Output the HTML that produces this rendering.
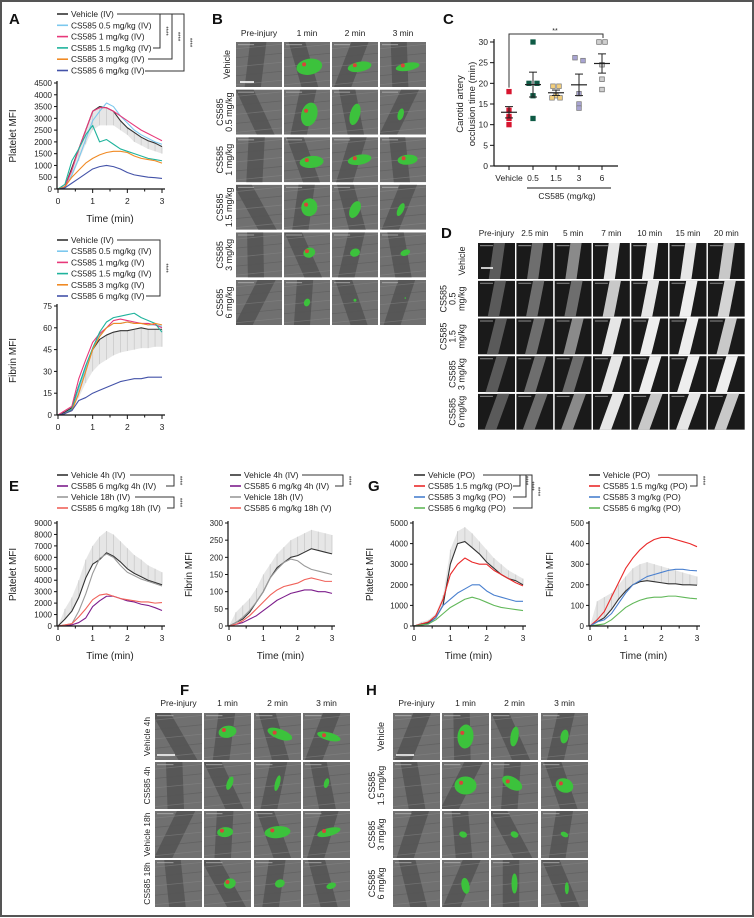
<!DOCTYPE html>
<html><head><meta charset="utf-8">
<style>
html,body{margin:0;padding:0;background:#fff;}
svg{display:block;font-family:"Liberation Sans",sans-serif;}
</style></head>
<body>
<svg id="fig" width="754" height="918" viewBox="0 0 754 918" xmlns="http://www.w3.org/2000/svg">
<rect x="1" y="1" width="752" height="915" fill="#fff" stroke="#555" stroke-width="2"/>
<g id="root"></g>
</svg>
<script>
// ---------- DATA ----------
const tA = [0,0.2,0.4,0.6,0.8,1.0,1.2,1.4,1.6,1.8,2.0,2.2,2.4,2.6,2.8,3.0];
// Panel A platelet
const aPltVehicle = [0,100,900,1700,2500,3300,3500,3450,3300,2900,2600,2400,2200,2050,1950,1800];
const aPltVehLower = [0,50,500,1200,1900,2500,2700,2700,2700,2500,2300,2000,1850,1700,1600,1500];
const aPlt05 = [0,50,600,1300,2100,2900,3300,3650,3500,3100,2800,2500,2300,2150,2000,1900];
const aPlt1 = [0,100,800,1700,2500,3300,3450,3450,3300,3100,2900,2700,2500,2350,2200,2050];
const aPlt15 = [0,200,1200,1700,2300,2700,2000,2100,1900,1700,1600,1500,1400,1300,1250,1200];
const aPlt3 = [0,100,500,800,1100,1300,1450,1550,1600,1600,1550,1400,1300,1250,1200,1100];
const aPlt6 = [0,50,250,450,650,850,950,1000,950,850,700,600,550,500,480,450];
const aPltTicks = [0,500,1000,1500,2000,2500,3000,3500,4000,4500];
// Panel A fibrin
const aFibVehicle = [0,2,5,20,33,45,52,55,57,58,58,59,60,59,59,59];
const aFibVehLower = [0,1,3,12,22,30,35,38,41,43,44,45,46,46,47,47];
const aFib05 = [0,1,4,18,32,46,55,60,63,63,64,63,63,62,62,61];
const aFib1 = [0,3,6,25,38,50,56,60,65,66,65,64,63,63,62,60];
const aFib15 = [0,1,4,20,34,46,57,64,67,68,69,70,67,65,63,57];
const aFib3 = [0,1,3,15,30,45,54,60,63,63,64,63,63,62,63,62];
const aFib6 = [0,1,3,10,12,15,17,19,21,23,24,25,25,26,26,26];
const aFibTicks = [0,15,30,45,60,75];
// Panel E platelet
const ePltVeh4 = [0,600,1300,2500,4200,5400,5800,6400,6100,5600,5000,4600,4300,4000,3800,3600];
const ePltCs4 = [0,50,100,300,700,1700,2200,2600,2600,2400,2200,2100,1900,1800,1600,1350];
const ePltVeh18 = [0,100,200,1300,2800,4600,5900,6300,6000,5300,4700,4400,4100,3900,3700,3500];
const ePltCs18 = [0,100,200,800,1500,2300,2700,2800,2600,2400,2300,2200,2100,2100,2000,2050];
const ePltUpper = [0,1500,2500,4000,5800,7000,7800,8300,8000,7400,6800,6200,5800,5300,5000,4700];
const ePltTicks = [0,1000,2000,3000,4000,5000,6000,7000,8000,9000];
// Panel E fibrin
const eFibVeh4 = [0,10,20,40,70,100,140,170,185,200,205,215,225,220,215,210];
const eFibCs4 = [0,5,10,20,30,45,60,75,85,95,100,105,105,100,100,95];
const eFibVeh18 = [0,10,25,45,70,100,140,165,185,195,190,175,165,160,155,150];
const eFibCs18 = [0,5,15,30,50,70,90,105,115,120,125,135,140,135,130,130];
const eFibUpper = [0,40,60,80,110,150,180,210,230,250,260,270,280,275,270,265];
const eFibTicks = [0,50,100,150,200,250,300];
// Panel G platelet
const gPltVeh = [0,100,150,400,1000,3000,4000,4100,3800,3500,3100,2800,2500,2300,2200,2000];
const gPlt15 = [0,100,200,500,1300,2500,3000,3300,3100,3000,3000,2700,2500,2300,2100,1950];
const gPlt3 = [0,50,100,400,1000,1300,1600,1800,2000,2000,1700,1500,1400,1300,1200,1200];
const gPlt6 = [0,50,100,300,600,900,1100,1300,1400,1300,1150,1000,900,850,800,750];
const gPltUpper = [0,200,300,600,1500,3700,4600,4800,4500,4100,3700,3300,3000,2700,2500,2300];
const gPltTicks = [0,1000,2000,3000,4000,5000];
// Panel G fibrin
const gFibVeh = [0,20,40,80,130,170,200,215,220,215,210,205,205,200,200,198];
const gFib15 = [0,30,70,140,210,280,330,370,400,420,430,430,420,410,400,385];
const gFib3 = [0,20,30,60,110,160,200,220,240,250,260,270,275,275,270,268];
const gFib6 = [0,5,10,30,60,90,110,125,135,140,140,145,145,140,135,132];
const gFibUpper = [0,120,140,160,200,240,280,300,310,300,290,280,270,260,250,240];
const gFibTicks = [0,100,200,300,400,500];
// Panel C
const cCategories = ["Vehicle","0.5","1.5","3","6"];
const cVehicle = [18,13.5,12,11.5,10];
const cDose05 = [30,20,20,17,11.5];
const cDose15 = [19.3,19.3,17,16.5,16.5];
const cDose3 = [26.2,25.5,17.5,15,14];
const cDose6 = [30,30,24.5,21,18.5];
const cTicks = [0,5,10,15,20,25,30];
const xTicks = [0,1,2,3];

// ---------- HELPERS ----------
const NS = "http://www.w3.org/2000/svg";
const root = document.getElementById('root');
function mk(tag, attrs, parent){
  const e = document.createElementNS(NS, tag);
  for (const k in attrs) e.setAttribute(k, attrs[k]);
  (parent||root).appendChild(e);
  return e;
}
function txt(x,y,s,size,anchor,parent,extra){
  const t = mk('text', Object.assign({x:x,y:y,'font-size':size,'text-anchor':anchor||'start',fill:'#222'}, extra||{}), parent);
  t.textContent = s;
  return t;
}

function lineChart(c){
  const g = mk('g',{});
  
  
  const xs = v => c.x0 + (v/3)*(c.x1-c.x0);
  const ys = v => c.yb - (v/c.ymax)*(c.yb-c.yt);
  if (c.band){
    let pts = [];
    for (let i=0;i<tA.length;i++) pts.push(xs(tA[i])+','+ys(c.bandBase[i]));
    for (let i=tA.length-1;i>=0;i--) pts.push(xs(tA[i])+','+ys(c.band[i]));
    const b = mk('polygon',{points:pts.join(' '),fill:'#e2e2e2',opacity:0.85},g);
    
    
    for (let i=0;i<tA.length;i++){
      const l = mk('line',{x1:xs(tA[i]),x2:xs(tA[i]),y1:ys(c.bandBase[i]),y2:ys(c.band[i]),stroke:'#cacaca','stroke-width':0.8},g);
      
      
    }
  }
  c.series.forEach(s=>{
    const pts = s.data.map((v,i)=>xs(tA[i])+','+ys(v)).join(' ');
    const p = mk('polyline',{points:pts,fill:'none',stroke:s.color,'stroke-width':1.1,'stroke-linejoin':'round'},g);
    
    
  });
  const ya = mk('line',{x1:c.x0-1,x2:c.x0-1,y1:c.yt-2,y2:c.yb,stroke:'#111','stroke-width':1.2},g);
  
  
  const xa = mk('line',{x1:c.x0-1,x2:c.x1+3,y1:c.yb,y2:c.yb,stroke:'#111','stroke-width':1.2},g);
  
  
  c.ticks.forEach(v=>{
    mk('line',{x1:c.x0-4,x2:c.x0-1,y1:ys(v),y2:ys(v),stroke:'#111','stroke-width':1},g);
    const t = txt(c.x0-6, ys(v)+3, String(v), 8, 'end', g);
    
    
  });
  [0,0.5,1,1.5,2,2.5,3].forEach(v=>{
    mk('line',{x1:xs(v),x2:xs(v),y1:c.yb,y2:c.yb+(v%1===0?4:2.5),stroke:'#111','stroke-width':1},g);
  });
  xTicks.forEach(v=>{
    const t = txt(xs(v), c.yb+15, String(v), 8.5, 'middle', g);
    
    
  });
  if (c.xTitle){
    const t = txt((c.x0+c.x1)/2, c.yb+33, 'Time (min)', 10, 'middle', g);
    
    
  }
  const yt = txt(0,0,c.yTitle,10,'middle',g,{transform:`translate(${c.ytx},${(c.yt+c.yb)/2}) rotate(-90)`});
  
  
}

function legend(x, y0, step, items){
  const g = mk('g',{});
  
  
  items.forEach((it,i)=>{
    const y = y0 + i*step;
    mk('line',{x1:x,x2:x+11,y1:y,y2:y,stroke:it.color,'stroke-width':1.6},g);
    const t = txt(x+14, y+3, it.label, 8.4, 'start', g);
    
    
  });
}
function bracket(xa, ya, xb, yb, xv, starX){
  const g = mk('g',{});
  
  
  mk('polyline',{points:`${xa},${ya} ${xv},${ya} ${xv},${yb} ${xb},${yb}`,fill:'none',stroke:'#333','stroke-width':1},g);
  const t = txt(0,0,'****',6,'middle',g,{transform:`translate(${starX},${(ya+yb)/2}) rotate(90)`});
  
  
}
function label(x,y,s){
  const t = txt(x,y,s,15,'start',null,{'font-weight':'bold',fill:'#111'});
  
  
}

// ---------- PANEL A ----------
label(9,24,'A');
const colsA = {veh:'#333',c05:'#7cc8ee',c1:'#e8387a',c15:'#1fb39c',c3:'#f08a24',c6:'#4352a8'};
const legA = [
 {label:'Vehicle (IV)',color:colsA.veh},{label:'CS585 0.5 mg/kg (IV)',color:colsA.c05},
 {label:'CS585 1 mg/kg (IV)',color:colsA.c1},{label:'CS585 1.5 mg/kg (IV)',color:colsA.c15},
 {label:'CS585 3 mg/kg (IV)',color:colsA.c3},{label:'CS585 6 mg/kg (IV)',color:colsA.c6}];
legend(57,14,11.3,legA);
bracket(117,14,153,48,160,164);
bracket(117,14,148,59,172,176);
bracket(117,14,145,71,184,188);
lineChart({name:'panel-a-platelet-chart',x0:58,x1:162,yb:189,yt:83,ymax:4500,ticks:aPltTicks,yTitle:'Platelet MFI',ytx:16,xTitle:true,
 band:aPltVehicle,bandBase:aPltVehLower,
 series:[{id:'vehicle',data:aPltVehicle,color:colsA.veh},{id:'cs585-0.5',data:aPlt05,color:colsA.c05},{id:'cs585-1',data:aPlt1,color:colsA.c1},
 {id:'cs585-1.5',data:aPlt15,color:colsA.c15},{id:'cs585-3',data:aPlt3,color:colsA.c3},{id:'cs585-6',data:aPlt6,color:colsA.c6}]});
legend(57,240,11.2,legA);
bracket(117,240,146,296,160,164);
lineChart({name:'panel-a-fibrin-chart',x0:58,x1:162,yb:415,yt:306,ymax:75,ticks:aFibTicks,yTitle:'Fibrin MFI',ytx:16,xTitle:false,
 band:aFibVehicle,bandBase:aFibVehLower,
 series:[{id:'vehicle',data:aFibVehicle,color:colsA.veh},{id:'cs585-0.5',data:aFib05,color:colsA.c05},{id:'cs585-1',data:aFib1,color:colsA.c1},
 {id:'cs585-1.5',data:aFib15,color:colsA.c15},{id:'cs585-3',data:aFib3,color:colsA.c3},{id:'cs585-6',data:aFib6,color:colsA.c6}]});

// ---------- MICROSCOPY TILES ----------
let tileId = 0;
function tile(x,y,w,h,kind,blob,scale){
  const g = mk('g',{});
  
  
  tileId++;
  const cid = 'clip'+tileId;
  const cp = mk('clipPath',{id:cid},g); mk('rect',{x:x,y:y,width:w,height:h},cp);
  const inner = mk('g',{'clip-path':`url(#${cid})`},g);
  if (kind==='bf'){
    mk('rect',{x:x,y:y,width:w,height:h,fill:'#707070'},inner);
    const a = (tileId*37)%60 - 30;
    mk('rect',{x:x+w*0.25,y:y-h,width:w*0.35,height:h*3,fill:'#3a3a3a',opacity:0.45,transform:`rotate(${a} ${x+w/2} ${y+h/2})`},inner);
    for (let k=0;k<5;k++) mk('line',{x1:x,y1:y+h*(0.15+k*0.2),x2:x+w,y2:y+h*(0.05+k*0.2),stroke:(k%2?'#555':'#8a8a8a'),'stroke-width':0.8,opacity:0.5},inner);
    if (blob){
      mk('ellipse',{cx:x+w*blob[0],cy:y+h*blob[1],rx:blob[2],ry:blob[3],fill:'#3cc23c',transform:`rotate(${blob[4]} ${x+w*blob[0]} ${y+h*blob[1]})`},inner);
      if (blob[2]>5) mk('circle',{cx:x+w*blob[0]-blob[2]*0.4,cy:y+h*blob[1]-blob[3]*0.3,r:2,fill:'#d8443a'},inner);
    }
  } else {
    mk('rect',{x:x,y:y,width:w,height:h,fill:'#1a1a1a'},inner);
    const br = ['#5a5a5a','#6e6e6e','#8a8a8a','#c8c8c8','#e6e6e6','#eeeeee','#d4d4d4'][blob];
    mk('rect',{x:x+w*0.36,y:y-h,width:w*0.3,height:h*3,fill:br,transform:`rotate(${8+(scale||0)} ${x+w/2} ${y+h/2})`},inner);
  }
  mk('rect',{x:x+2,y:y+2,width:w*0.35,height:1.2,fill:'#bbb',opacity:0.6},inner);
}
function rotLabel(x,y,lines,size){
  lines.forEach((s,i)=>{
    const t = txt(0,0,s,size||9,'middle',null,{transform:`translate(${x+i*(size||9)+1},${y}) rotate(-90)`});
    
    
  });
}
function header(xs,w,y,labels,size){
  labels.forEach((s,i)=>{
    const t = txt(xs[i]+w/2,y,s,size||8.5,'middle');
    
    
  });
}

// Panel B
label(212,24,'B');
const bCols=[236,284,332,380], bW=46, bH=45;
header(bCols,bW,36,['Pre-injury','1 min','2 min','3 min']);
const bBlobs = [
 [[0.55,0.55,13,8,-10],[0.6,0.55,12,5,-10],[0.6,0.55,12,4,-10]],
 [[0.55,0.55,8,12,15],[0.5,0.55,5,11,15],[0.45,0.55,3,6,15]],
 [[0.6,0.55,12,6,-5],[0.6,0.5,12,5,-10],[0.6,0.5,10,5,-5]],
 [[0.55,0.5,8,9,10],[0.5,0.55,5,9,25],[0.45,0.55,3,7,25]],
 [[0.55,0.45,6,5,-20],[0.5,0.45,5,4,-20],[0.55,0.45,5,3,-20]],
 [[0.5,0.5,3,4,20],[0.5,0.45,1.5,1.5,0],[0.55,0.4,0.8,0.8,0]]];
const bRowLabels=[['Vehicle'],['CS585','0.5 mg/kg'],['CS585','1 mg/kg'],['CS585','1.5 mg/kg'],['CS585','3 mg/kg'],['CS585','6 mg/kg']];
for (let r=0;r<6;r++){
  const y = 42 + r*47.6;
  for (let c=0;c<4;c++) tile(bCols[c],y,bW,bH,'bf',c===0?null:bBlobs[r][c-1]);
  rotLabel(bRowLabels[r].length===1?229:222, y+bH/2, bRowLabels[r], 9);
}
mk('line',{x1:240,x2:254,y1:82,y2:82,stroke:'#fff','stroke-width':1.6});

// ---------- PANEL C ----------
label(443,24,'C');
(function(){
  const g = mk('g',{});
  
  
  const yb=166, yt=42, x0=494, xEnd=618;
  const catX = [509,533,556,579,602];
  const ys = v => yb - v/30*(yb-yt);
  const groups=[cVehicle,cDose05,cDose15,cDose3,cDose6];
  const fills=['#d7152f','#0f5a45','#f3cf7d','#a8a4d2','#d0d0d0'];
  const strokes=['#d7152f','#0f5a45','#777','#777','#666'];
  const offs=[[0,0,0,0,0],[0,-4,4,0,0],[-3,3,0,-4,4],[-4,4,0,0,0],[-3,3,0,0,0]];
  mk('line',{x1:x0,x2:x0,y1:yt-3,y2:yb,stroke:'#111','stroke-width':1.2},g);
  mk('line',{x1:x0,x2:xEnd,y1:yb,y2:yb,stroke:'#111','stroke-width':1.2},g);
  cTicks.forEach(v=>{
    mk('line',{x1:x0-4,x2:x0,y1:ys(v),y2:ys(v),stroke:'#111'},g);
    const t=txt(x0-6,ys(v)+3,String(v),8.5,'end',g);
    
    
  });
  cCategories.forEach((s,i)=>{
    mk('line',{x1:catX[i],x2:catX[i],y1:yb,y2:yb+4,stroke:'#111'},g);
    const t=txt(catX[i],yb+15,s,8.5,'middle',g);
    
    
  });
  mk('line',{x1:527,x2:611,y1:188,y2:188,stroke:'#111'},g);
  const xt=txt(567,199,'CS585 (mg/kg)',8.5,'middle',g);
  
  
  const y1=txt(0,0,'Carotid artery',9.5,'middle',g,{transform:`translate(463,${(yb+yt)/2}) rotate(-90)`});
  
  
  txt(0,0,'occlusion time (min)',9.5,'middle',g,{transform:`translate(475,${(yb+yt)/2}) rotate(-90)`});
  mk('polyline',{points:`509,${ys(18)-4} 509,34 603,34 603,${ys(30)-4}`,fill:'none',stroke:'#333'},g);
  txt(555,33,'**',7,'middle',g);
  groups.forEach((arr,i)=>{
    const mean = arr.reduce((a,b)=>a+b,0)/arr.length;
    const sd = Math.sqrt(arr.reduce((a,b)=>a+(b-mean)*(b-mean),0)/(arr.length-1));
    const se = sd/Math.sqrt(arr.length);
    arr.forEach((v,j)=>{
      const p=mk('rect',{x:catX[i]+offs[i][j]-2.3,y:ys(v)-2.3,width:4.6,height:4.6,fill:fills[i],stroke:strokes[i],'stroke-width':0.7},g);
      
      
    });
    mk('line',{x1:catX[i]-8,x2:catX[i]+8,y1:ys(mean),y2:ys(mean),stroke:'#222','stroke-width':1.2},g);
    mk('line',{x1:catX[i],x2:catX[i],y1:ys(mean-se),y2:ys(mean+se),stroke:'#222','stroke-width':1},g);
    mk('line',{x1:catX[i]-4,x2:catX[i]+4,y1:ys(mean+se),y2:ys(mean+se),stroke:'#222'},g);
    mk('line',{x1:catX[i]-4,x2:catX[i]+4,y1:ys(mean-se),y2:ys(mean-se),stroke:'#222'},g);
  });
})();

// ---------- PANEL D ----------
label(441,238,'D');
const dCols=[]; for(let j=0;j<7;j++) dCols.push(478+j*38.3);
header(dCols,37,236,['Pre-injury','2.5 min','5 min','7 min','10 min','15 min','20 min'],8.3);
const dRowLabels=[['Vehicle'],['CS585','0.5','mg/kg'],['CS585','1.5','mg/kg'],['CS585','3 mg/kg'],['CS585','6 mg/kg']];
const dLevels=[[0,1,2,4,5,4,3],[0,1,1,3,4,5,6],[0,1,2,4,5,5,3],[0,1,1,4,5,5,5],[0,1,2,4,3,4,3]];
for (let r=0;r<5;r++){
  const y=243+r*37.7;
  for (let c=0;c<7;c++) tile(dCols[c],y,37,36,'fl',dLevels[r][c], r*3);
  const L=dRowLabels[r];
  rotLabel(473-L.length*9.2, y+18, L, 9);
}
mk('line',{x1:481,x2:493,y1:268,y2:268,stroke:'#fff','stroke-width':1.5});

// ---------- PANEL E ----------
label(9,491,'E');
const eCols={v4:'#333',c4:'#7d1e8c',v18:'#9a9a9a',c18:'#f0625a'};
legend(57,475,11,[{label:'Vehicle 4h (IV)',color:eCols.v4},{label:'CS585 6 mg/kg 4h (IV)',color:eCols.c4},{label:'Vehicle 18h (IV)',color:eCols.v18},{label:'CS585 6 mg/kg 18h (IV)',color:eCols.c18}]);
bracket(130,475,166,486,174,178);
bracket(135,497,167,508,174,178);
lineChart({name:'panel-e-platelet-chart',x0:58,x1:162,yb:626,yt:523,ymax:9000,ticks:ePltTicks,yTitle:'Platelet MFI',ytx:16,xTitle:true,
 band:ePltUpper,bandBase:ePltVeh4,
 series:[{id:'vehicle-4h',data:ePltVeh4,color:eCols.v4},{id:'cs585-4h',data:ePltCs4,color:eCols.c4},{id:'vehicle-18h',data:ePltVeh18,color:eCols.v18},{id:'cs585-18h',data:ePltCs18,color:eCols.c18}]});
legend(230,475,11,[{label:'Vehicle 4h (IV)',color:eCols.v4},{label:'CS585 6 mg/kg 4h (IV)',color:eCols.c4},{label:'Vehicle 18h (IV)',color:eCols.v18},{label:'CS585 6 mg/kg 18h (V)',color:eCols.c18}]);
bracket(302,475,335,486,343,347);
lineChart({name:'panel-e-fibrin-chart',x0:229,x1:332,yb:626,yt:523,ymax:300,ticks:eFibTicks,yTitle:'Fibrin MFI',ytx:192,xTitle:true,
 band:eFibUpper,bandBase:eFibVeh4,
 series:[{id:'vehicle-4h',data:eFibVeh4,color:eCols.v4},{id:'cs585-4h',data:eFibCs4,color:eCols.c4},{id:'vehicle-18h',data:eFibVeh18,color:eCols.v18},{id:'cs585-18h',data:eFibCs18,color:eCols.c18}]});

// ---------- PANEL G ----------
label(368,491,'G');
const gCols={v:'#333',c15:'#ea2a2a',c3:'#4a80cf',c6:'#62b85a'};
const legG=[{label:'Vehicle (PO)',color:gCols.v},{label:'CS585 1.5 mg/kg (PO)',color:gCols.c15},{label:'CS585 3 mg/kg (PO)',color:gCols.c3},{label:'CS585 6 mg/kg (PO)',color:gCols.c6}];
legend(414,475,11,legG);
bracket(483,475,513,486,520,524);
bracket(483,475,513,497,526,530);
bracket(483,475,513,508,532,536);
lineChart({name:'panel-g-platelet-chart',x0:414,x1:523,yb:626,yt:523,ymax:5000,ticks:gPltTicks,yTitle:'Platelet MFI',ytx:373,xTitle:true,
 band:gPltUpper,bandBase:gPltVeh,
 series:[{id:'vehicle',data:gPltVeh,color:gCols.v},{id:'cs585-1.5',data:gPlt15,color:gCols.c15},{id:'cs585-3',data:gPlt3,color:gCols.c3},{id:'cs585-6',data:gPlt6,color:gCols.c6}]});
legend(589,475,11,legG);
bracket(658,475,690,486,697,701);
lineChart({name:'panel-g-fibrin-chart',x0:590,x1:697,yb:626,yt:523,ymax:500,ticks:gFibTicks,yTitle:'Fibrin MFI',ytx:553,xTitle:true,
 band:gFibUpper,bandBase:gFibVeh,
 series:[{id:'vehicle',data:gFibVeh,color:gCols.v},{id:'cs585-1.5',data:gFib15,color:gCols.c15},{id:'cs585-3',data:gFib3,color:gCols.c3},{id:'cs585-6',data:gFib6,color:gCols.c6}]});

// ---------- PANEL F ----------
label(180,695,'F');
const fCols=[155,204,254,303], fW=47, fH=47;
header(fCols,fW,706,['Pre-injury','1 min','2 min','3 min']);
const fBlobs=[
 [[0.5,0.4,9,6,-10],[0.55,0.45,13,5,20],[0.55,0.5,12,4,15]],
 [[0.55,0.45,3,7,20],[0.5,0.45,2.5,8,15],[0.5,0.45,2.5,5,15]],
 [[0.45,0.45,8,5,-5],[0.5,0.45,13,6,-5],[0.55,0.45,12,4,-15]],
 [[0.55,0.5,6,5,-20],[0.55,0.5,5,4,-20],[0.6,0.55,5,3,-20]]];
const fRowLabels=['Vehicle 4h','CS585 4h','Vehicle 18h','CS585 18h'];
for (let r=0;r<4;r++){
  const y=713+r*49;
  for (let c=0;c<4;c++) tile(fCols[c],y,fW,fH,'bf',c===0?null:fBlobs[r][c-1]);
  rotLabel(149,y+fH/2,[fRowLabels[r]],8.5);
}
mk('line',{x1:157,x2:175,y1:755,y2:755,stroke:'#fff','stroke-width':1.6});

// ---------- PANEL H ----------
label(366,695,'H');
const hCols=[393,442,491,541], hW=47, hH=47;
header(hCols,hW,706,['Pre-injury','1 min','2 min','3 min']);
const hBlobs=[
 [[0.5,0.5,8,12,5],[0.5,0.5,4,10,10],[0.5,0.5,4,7,10]],
 [[0.5,0.5,11,9,0],[0.45,0.45,11,6,30],[0.5,0.5,9,7,20]],
 [[0.45,0.5,4,3,20],[0.5,0.5,4,3,25],[0.5,0.5,4,2.5,25]],
 [[0.5,0.55,4,8,-10],[0.5,0.5,3,10,0],[0.55,0.6,2,6,0]]];
const hRowLabels=[['Vehicle'],['CS585','1.5 mg/kg'],['CS585','3 mg/kg'],['CS585','6 mg/kg']];
for (let r=0;r<4;r++){
  const y=713+r*49;
  for (let c=0;c<4;c++) tile(hCols[c],y,hW,hH,'bf',c===0?null:hBlobs[r][c-1]);
  const L=hRowLabels[r];
  rotLabel(L.length===1?383:374,y+hH/2,L,9);
}
mk('line',{x1:396,x2:414,y1:755,y2:755,stroke:'#fff','stroke-width':1.6});
</script>
</body></html>
